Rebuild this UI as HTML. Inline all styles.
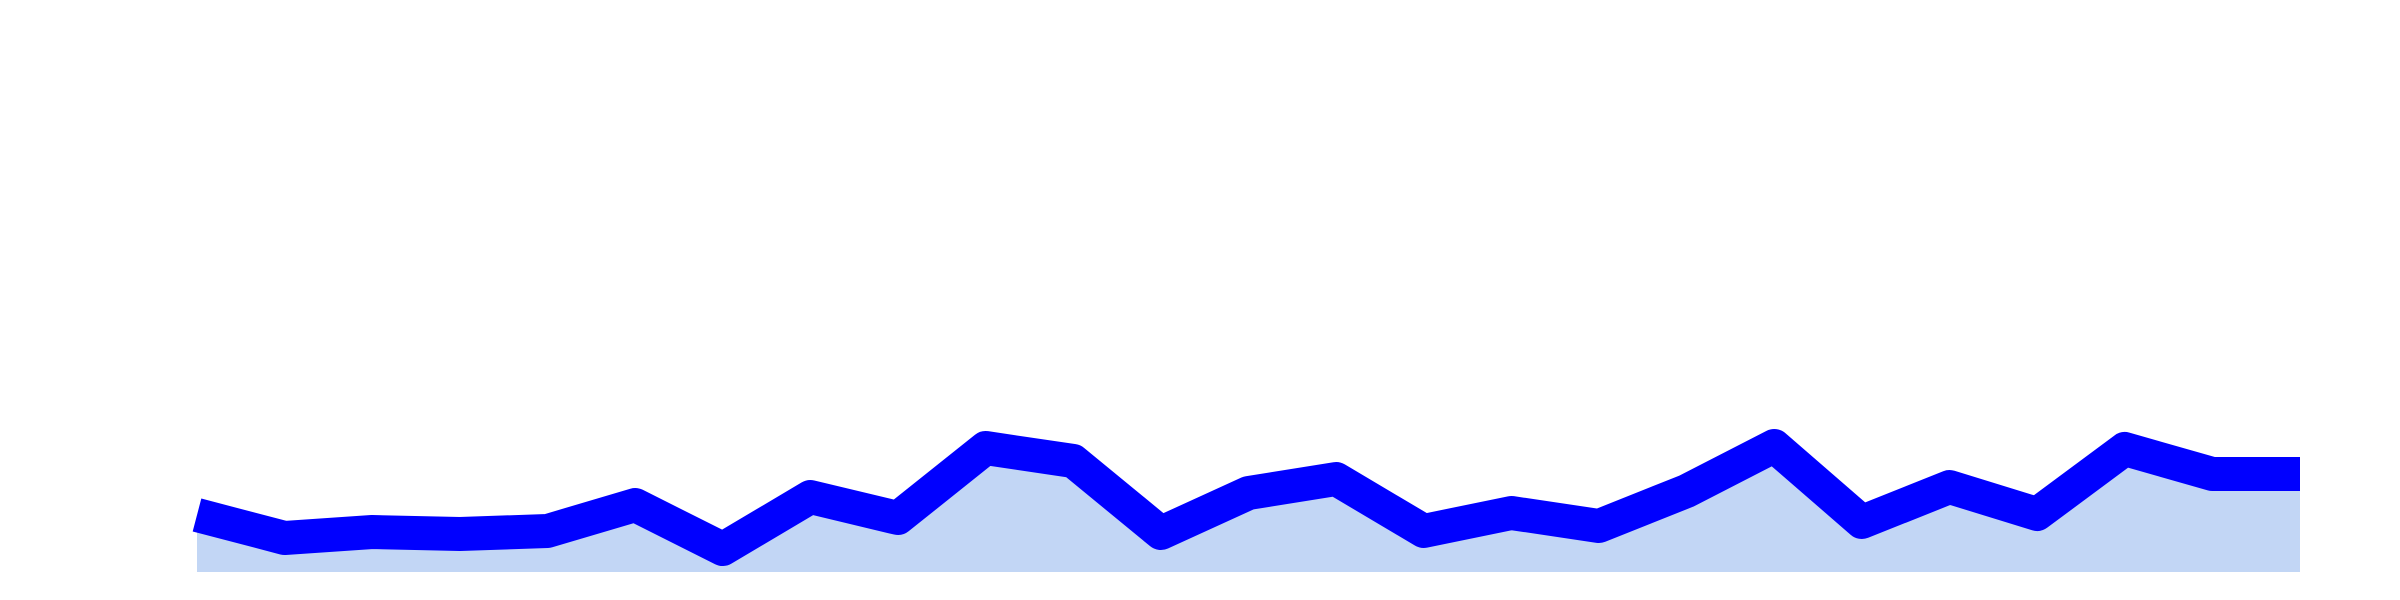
<!DOCTYPE html>
<html><head><meta charset="utf-8"><style>
html,body{margin:0;padding:0;background:#fff;width:2400px;height:600px;overflow:hidden}
</style></head><body>
<svg id="chart" width="2400" height="600" xmlns="http://www.w3.org/2000/svg"></svg>
<script>
const categories = Array.from({length:25},(_,i)=>i+1);
const values = [57,34,40,38,41,67,23,75,54,124,111,39,79,93,41,59,46,81,126,50,85,58,123,98,98];
const X0=197,X1=2300,Y0=572,YMAX=552,Y1=20;
function xScale(i){return X0+(X1-X0)*i/(categories.length-1);}
function yScale(v){return Y0-(Y0-Y1)*v/YMAX;}
const svg=document.getElementById('chart');
const NS='http://www.w3.org/2000/svg';
const pts=values.map((v,i)=>[xScale(i),yScale(v)]);
const area=document.createElementNS(NS,'path');


area.setAttribute('d','M'+xScale(0)+','+Y0+' '+pts.map(p=>'L'+p[0]+','+p[1]).join(' ')+' L'+xScale(values.length-1)+','+Y0+' Z');
area.setAttribute('fill','#c2d6f5');
svg.appendChild(area);
const line=document.createElementNS(NS,'path');


line.setAttribute('d','M'+pts.map(p=>p[0]+','+p[1]).join(' L'));
line.setAttribute('fill','none');
line.setAttribute('stroke','#0000ff');
line.setAttribute('stroke-width','34');
line.setAttribute('stroke-linejoin','round');
line.setAttribute('stroke-linecap','butt');
svg.appendChild(line);
</script>
</body></html>
